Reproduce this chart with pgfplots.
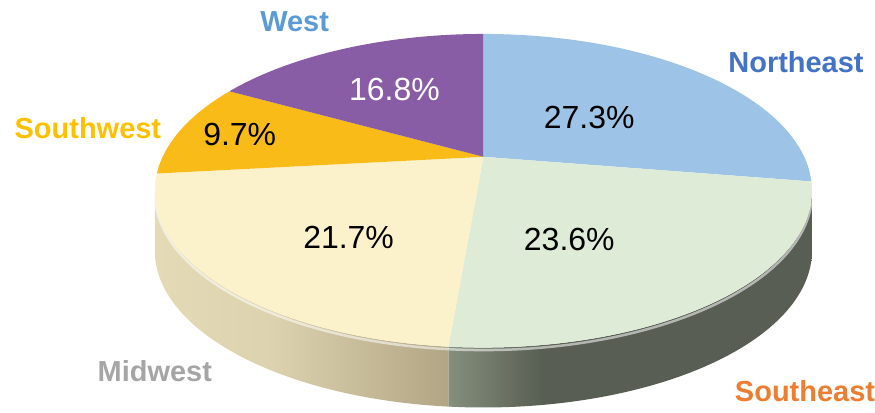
\documentclass[border=0pt]{standalone}
\usepackage{fontspec}
\setmainfont{Liberation Sans}
\usepackage{pgfplots}
\usepackage{pgfplotstable}
\pgfplotsset{compat=1.18}
\usetikzlibrary{shadings}

\definecolor{cNE}{HTML}{9DC3E6}
\definecolor{cSE}{HTML}{DEEBD6}
\definecolor{cMW}{HTML}{FBF1CB}
\definecolor{cSW}{HTML}{F8BB17}
\definecolor{cW}{HTML}{895DA5}
\definecolor{sNEa}{HTML}{7C9AB6}\definecolor{sNEb}{HTML}{4E6177}
\definecolor{sSEa}{HTML}{858F7C}\definecolor{sSEb}{HTML}{585E53}
\definecolor{sMWa}{HTML}{E4DAB6}\definecolor{sMWb}{HTML}{B2A585}
\definecolor{sSWa}{HTML}{D9A31A}\definecolor{sSWb}{HTML}{A67C10}
\definecolor{sWa}{HTML}{6E4A86}\definecolor{sWb}{HTML}{4F3461}
\definecolor{lW}{HTML}{5B9BD5}
\definecolor{lNE}{HTML}{4472C4}
\definecolor{lSW}{HTML}{FFC000}
\definecolor{lMW}{HTML}{A5A5A5}
\definecolor{lSE}{HTML}{ED7D31}

% side shadings: stops 25bp..75bp span the side's width
\pgfdeclarehorizontalshading{sideNE}{100bp}{color(0bp)=(sNEa); color(25bp)=(sNEa); color(75bp)=(sNEb); color(100bp)=(sNEb)}
\pgfdeclarehorizontalshading{sideSE}{100bp}{color(0bp)=(sSEa); color(25bp)=(sSEa); color(38bp)=(sSEb); color(100bp)=(sSEb)}
\pgfdeclarehorizontalshading{sideMW}{100bp}{color(0bp)=(sMWa); color(25bp)=(sMWa); color(45bp)=(sMWa!85!sMWb); color(75bp)=(sMWb); color(100bp)=(sMWb)}
\pgfdeclarehorizontalshading{sideSW}{100bp}{color(0bp)=(sSWa); color(25bp)=(sSWa); color(75bp)=(sSWb); color(100bp)=(sSWb)}
\pgfdeclarehorizontalshading{sideW}{100bp}{color(0bp)=(sWa); color(25bp)=(sWa); color(75bp)=(sWb); color(100bp)=(sWb)}

\pgfplotstableread{
name value col side
Northeast 27.3 cNE sideNE
Southeast 23.6 cSE sideSE
Midwest 21.7 cMW sideMW
Southwest 9.7 cSW sideSW
West 16.8 cW sideW
}\piedata

% geometry (pt = pixel units)
\def\RX{329}\def\RY{157}\def\PC{34}\def\TH{60}

\begin{document}
\begin{tikzpicture}
\pgfmathsetmacro\PK{\PC/\RY}
\pgfmathsetmacro\PA{\RX*sqrt(1-\PK*\PK)}
\xdef\PK{\PK}\xdef\PA{\PA}
\gdef\total{0}
\foreach \i in {0,...,4}{%
  \pgfplotstablegetelem{\i}{value}\of\piedata
  \pgfmathsetmacro\tt{\total+\pgfplotsretval}\xdef\total{\tt}}
\gdef\cum{0}
\foreach \i in {0,...,4}{%
  \pgfplotstablegetelem{\i}{value}\of\piedata
  \let\vv\pgfplotsretval
  \pgfmathsetmacro\ts{90-360/\total*\cum}
  \pgfmathsetmacro\te{90-360/\total*(\cum+\vv)}
  \pgfmathsetmacro\xs{\PA*cos(\ts)/(1+\PK*sin(\ts))}
  \pgfmathsetmacro\ys{(\RY*sin(\ts)+\PC)/(1+\PK*sin(\ts))}
  \pgfmathsetmacro\xe{\PA*cos(\te)/(1+\PK*sin(\te))}
  \pgfmathsetmacro\ye{(\RY*sin(\te)+\PC)/(1+\PK*sin(\te))}
  \pgfmathsetmacro\fs{atan2(\ys/\RY,\xs/\RX)}
  \pgfmathsetmacro\fs{\fs-360*round((\fs-\ts)/360)}
  \pgfmathsetmacro\fe{atan2(\ye/\RY,\xe/\RX)}
  \pgfmathsetmacro\fe{\fe-360*round((\fe-\te)/360)}
  \pgfmathsetmacro\lo{max(\fe,-180)}
  \pgfmathsetmacro\hi{min(\fs,0)}
  \expandafter\xdef\csname pxs\i\endcsname{\xs}
  \expandafter\xdef\csname pys\i\endcsname{\ys}
  \expandafter\xdef\csname pfs\i\endcsname{\fs}
  \expandafter\xdef\csname pfe\i\endcsname{\fe}
  \expandafter\xdef\csname plo\i\endcsname{\lo}
  \expandafter\xdef\csname phi\i\endcsname{\hi}
  \pgfplotstablegetelem{\i}{col}\of\piedata
  \expandafter\xdef\csname pcol\i\endcsname{\pgfplotsretval}
  \pgfplotstablegetelem{\i}{side}\of\piedata
  \expandafter\xdef\csname pside\i\endcsname{\pgfplotsretval}
  \pgfmathsetmacro\cc{\cum+\vv}\xdef\cum{\cc}}
\begin{axis}[
  x=1pt, y=1pt, disabledatascaling,
  xmin=-484, xmax=391, ymin=-218, ymax=191,
  hide axis, clip=false,
]
% reserve the full picture area
\path (axis cs:-484,-218) rectangle (axis cs:391,191);
\pgfplotsextra{%
  % sides
  \foreach \i in {0,...,4}{%
    \edef\hi{\csname phi\i\endcsname}\edef\lo{\csname plo\i\endcsname}%
    \ifdim\hi pt>\lo pt
      \shade[shading=\csname pside\i\endcsname]
        (axis cs:{\RX*cos(\hi)},{\RY*sin(\hi)})
        arc[start angle=\hi, end angle=\lo, x radius=\RX, y radius=\RY]
        -- ++(0,-\TH)
        arc[start angle=\lo, end angle=\hi, x radius=\RX, y radius=\RY]
        -- cycle;
    \fi}
  % rim highlight
  \draw[white, opacity=0.55, line width=2.5pt]
    (axis cs:{\RX*cos(-3)},{\RY*sin(-3)-2.5})
    arc[start angle=-3, end angle=-177, x radius=\RX, y radius=\RY];
  % top faces
  \foreach \i in {0,...,4}{%
    \edef\xs{\csname pxs\i\endcsname}\edef\ys{\csname pys\i\endcsname}%
    \edef\fs{\csname pfs\i\endcsname}\edef\fe{\csname pfe\i\endcsname}%
    \fill[\csname pcol\i\endcsname]
      (axis cs:0,\PC) -- (axis cs:\xs,\ys)
      arc[start angle=\fs, end angle=\fe, x radius=\RX, y radius=\RY]
      -- cycle;}
}
% percentage labels
\begin{scope}[font=\fontsize{32}{38}\selectfont, every node/.style={inner sep=0pt}]
\node[white] at (axis cs:-89,101) {16.8\%};
\node at (axis cs:106,73) {27.3\%};
\node at (axis cs:-244,56) {9.7\%};
\node at (axis cs:-135,-47) {21.7\%};
\node at (axis cs:86,-49) {23.6\%};
\end{scope}
% category labels
\begin{scope}[font=\fontsize{29}{34}\selectfont\bfseries, every node/.style={inner sep=0pt}]
\node[lW] at (axis cs:-189,169) {West};
\node[lNE] at (axis cs:313,129) {Northeast};
\node[lSW] at (axis cs:-396,63) {Southwest};
\node[lMW] at (axis cs:-329,-181) {Midwest};
\node[lSE] at (axis cs:322,-201) {Southeast};
\end{scope}
\end{axis}
\end{tikzpicture}
\end{document}
